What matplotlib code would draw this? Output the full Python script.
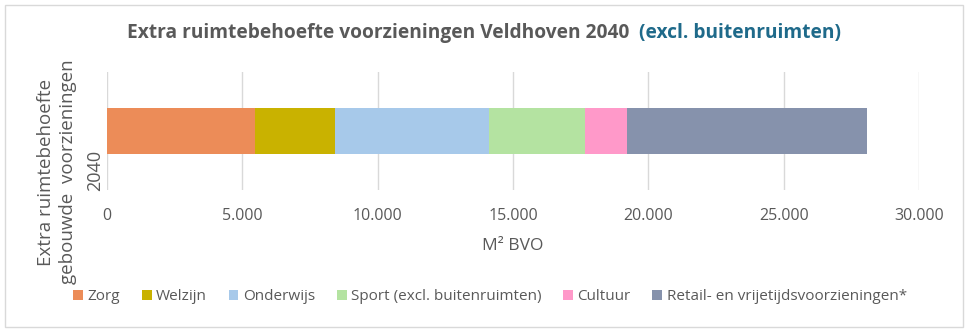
import matplotlib
matplotlib.use("Agg")
import matplotlib.pyplot as plt
from matplotlib.patches import Rectangle

# Extra space required per type of facility (m² BVO)
categories = ["Zorg", "Welzijn", "Onderwijs", "Sport (excl. buitenruimten)",
              "Cultuur", "Retail- en vrijetijdsvoorzieningen*"]
values = [5470, 2970, 5680, 3535, 1540, 8890]
colors = ["#EC8C58", "#C9B200", "#A7C9EA", "#B4E3A1", "#FF99C9", "#8692AC"]
row_label = "2040"
x_ticks = [0, 5000, 10000, 15000, 20000, 25000, 30000]

FONT = "Open Sans"
plt.rcParams["font.family"] = [FONT, "DejaVu Sans"]
TXT = "#595959"

fig = plt.figure(figsize=(9.71, 3.33), dpi=100)
fig.patches.append(Rectangle((0.005, 0.018), 0.987, 0.966, transform=fig.transFigure,
                             fill=False, edgecolor="#D9D9D9", linewidth=1.0))

ax = fig.add_axes([0.1102, 0.4294, 0.8363, 0.3544])
left = 0
for cat, val, col in zip(categories, values, colors):
    ax.barh([0], [val], left=left, height=0.39, color=col, label=cat, zorder=3)
    left += val

ax.set_xlim(0, 30000)
ax.set_ylim(-0.5, 0.5)
ax.set_xticks(x_ticks)
ax.set_xticklabels([f"{t:,}".replace(",", ".") for t in x_ticks], color=TXT, fontsize=11.5)
ax.set_yticks([])
ax.tick_params(axis="x", length=0, pad=13)
ax.grid(axis="x", color="#D9D9D9", linewidth=1.0, zorder=0)
for s in ax.spines.values():
    s.set_visible(False)

ax.set_xlabel("M² BVO", color=TXT, fontsize=12.5, labelpad=10)

# category label and axis title on the left
fig.text(95 / 971, 1 - 170 / 333, row_label, rotation=90, ha="center", va="center",
         color=TXT, fontsize=13)
fig.text(57 / 971, 1 - 172 / 333, "Extra ruimtebehoefte\ngebouwde  voorzieningen",
         rotation=90, ha="center", va="center", color=TXT, fontsize=13.5, linespacing=1.3)

# title in two colours
t1 = fig.text(127 / 971, 1 - 33 / 333, "Extra ruimtebehoefte voorzieningen Veldhoven 2040",
              ha="left", va="center", color=TXT, fontsize=13.8, fontweight="bold")
fig.canvas.draw()
bb = t1.get_window_extent()
fig.text((bb.x1 + 10) / 971, 1 - 33 / 333, "(excl. buitenruimten)",
         ha="left", va="center", color="#1F6A8A", fontsize=13.8, fontweight="bold")

fig.legend(loc="center", bbox_to_anchor=(490 / 971, 1 - 297 / 333), ncol=6, frameon=False,
           fontsize=11, handlelength=0.65, handleheight=0.65, handletextpad=0.3,
           columnspacing=1.4, labelcolor=TXT)

fig.savefig("out.png", dpi=100)
